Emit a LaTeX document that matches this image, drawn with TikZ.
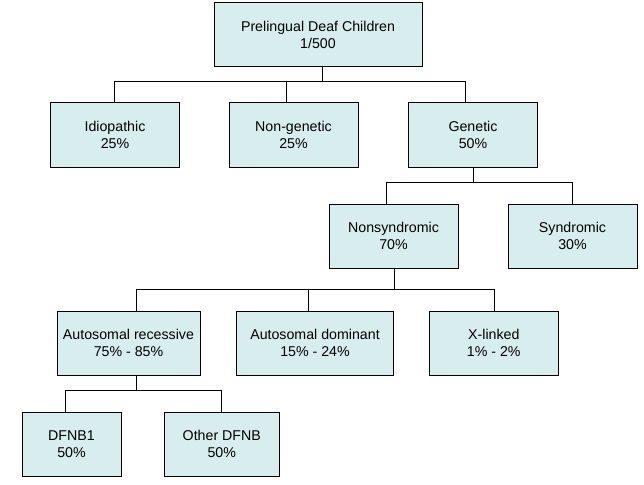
\documentclass[tikz,border=0pt]{standalone}
\usepackage{fontspec}
\setmainfont{Liberation Sans}
\definecolor{boxfill}{RGB}{216,238,238}
\begin{document}
\begin{tikzpicture}[x=1pt,y=-1pt,
  box/.style={draw=black, line width=1pt, fill=boxfill, align=center,
    inner sep=0pt, font=\fontsize{14.2}{17.5}\selectfont},
  link/.style={draw=black, line width=1pt}]
\useasboundingbox (0,0) rectangle (644,484);
\fill[white] (0,0) rectangle (644,484);
% boxes
\node[box, minimum width=208pt, minimum height=64pt] (root) at (318,35) {Prelingual Deaf Children\\1/500};
\node[box, minimum width=129pt, minimum height=64pt] (idio) at (115,135) {Idiopathic\\25\%};
\node[box, minimum width=129pt, minimum height=64pt] (nongen) at (293.5,135) {Non-genetic\\25\%};
\node[box, minimum width=129pt, minimum height=64pt] (gen) at (473,135) {Genetic\\50\%};
\node[box, minimum width=129pt, minimum height=64pt] (nonsyn) at (393.5,236) {Nonsyndromic\\70\%};
\node[box, minimum width=129pt, minimum height=64pt] (syn) at (572.5,236) {Syndromic\\30\%};
\node[box, minimum width=143pt, minimum height=64pt] (ar) at (128.5,343) {Autosomal recessive\\75\% - 85\%};
\node[box, minimum width=157pt, minimum height=64pt] (ad) at (315,343) {Autosomal dominant\\15\% - 24\%};
\node[box, minimum width=129pt, minimum height=64pt] (xl) at (493.8,343) {X-linked\\1\% - 2\%};
\node[box, minimum width=99pt, minimum height=64pt] (dfnb) at (71.5,444) {DFNB1\\50\%};
\node[box, minimum width=115pt, minimum height=64pt] (other) at (221.8,444) {Other DFNB\\50\%};
% bus levels
\coordinate (b1) at (0,81.5);
\coordinate (b2) at (0,182.5);
\coordinate (b3) at (0,289.3);
\coordinate (b4) at (0,390.7);
% level 1
\draw[link] ([xshift=4.7]root.south) -- ([xshift=4.7]root.south |- b1);
\draw[link] ([xshift=-1]idio.north) |- ([xshift=-7.7]gen.north |- b1) -- ([xshift=-7.7]gen.north);
\draw[link] ([xshift=-6.8]nongen.north) -- ([xshift=-6.8]nongen.north |- b1);
% level 2
\draw[link] (gen.south) -- (gen.south |- b2);
\draw[link] ([xshift=-6.8]nonsyn.north) |- (syn.north |- b2) -- (syn.north);
% level 3
\draw[link] ([xshift=0.8]nonsyn.south) -- ([xshift=0.8]nonsyn.south |- b3);
\draw[link] ([xshift=7.5]ar.north) |- ([xshift=0.5]xl.north |- b3) -- ([xshift=0.5]xl.north);
\draw[link] ([xshift=-6.7]ad.north) -- ([xshift=-6.7]ad.north |- b3);
% level 4
\draw[link] ([xshift=7.5]ar.south) -- ([xshift=7.5]ar.south |- b4);
\draw[link] ([xshift=-6.5]dfnb.north) |- (other.north |- b4) -- (other.north);
\end{tikzpicture}
\end{document}
